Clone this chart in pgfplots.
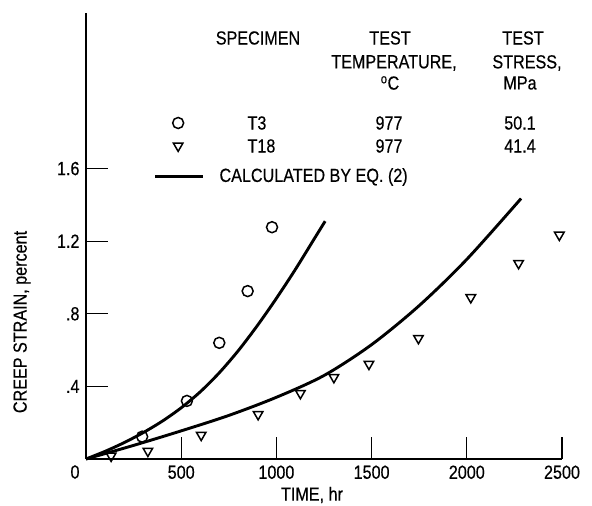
\documentclass[border=0pt]{standalone}
\usepackage{pgfplots}
\pgfplotsset{compat=1.18}
\usepackage{fontspec}
\setmainfont{Liberation Sans}[FakeStretch=0.85, FakeBold=0.4]
\begin{document}
\fontsize{19}{21}\selectfont
\begin{tikzpicture}
\useasboundingbox (-86pt,-47pt) rectangle (506pt,459pt);
\begin{axis}[
  scale only axis, width=476pt, height=446pt,
  xmin=0, xmax=2500, ymin=0, ymax=2.457,
  axis lines=left, axis line style={-, line width=1.5pt},
  tick align=inside, major tick length=22pt,
  tick style={line width=1.3pt, black},
  xtick={500,1000,1500,2000,2500}, xticklabels={500,1000,1500,2000,2500},
  ytick={0.4,0.8,1.2,1.6}, yticklabels={.4,.8,1.2,1.6},
  /pgf/number format/assume math mode=true,
  tick label style={font=\fontsize{19}{21}\selectfont},
  clip=false,
]
% calculated curves
\addplot[black, line width=2.9pt, smooth] coordinates {
  (0,0) (100,0.042) (200,0.09) (300,0.145) (400,0.208) (500,0.282) (600,0.37)
  (700,0.475) (800,0.597) (900,0.735) (1000,0.885) (1100,1.045) (1200,1.215) (1256,1.31)};
\addplot[black, line width=2.9pt, smooth] coordinates {
  (0,0) (250,0.075) (500,0.155) (750,0.24) (1000,0.34) (1250,0.46)
  (1500,0.63) (1750,0.845) (2000,1.10) (2285,1.435)};
% T3
\addplot[only marks, mark=o, mark size=5.5pt, mark options={line width=1.5pt}] coordinates {
  (295,0.123) (530,0.32) (700,0.64) (849,0.925) (977,1.277)};
% T18
\addplot[only marks, mark=triangle, mark size=5.5pt, mark options={rotate=180, line width=1.5pt}] coordinates {
  (132,0.017) (325,0.044) (605,0.132) (904,0.246) (1126,0.362) (1302,0.45)
  (1486,0.523) (1746,0.665) (2021,0.89) (2272,1.078) (2486,1.234)};
% key samples
\addplot[only marks, mark=o, mark size=5.5pt, mark options={line width=1.5pt}] coordinates {(484,1.851)};
\addplot[only marks, mark=triangle, mark size=5.5pt, mark options={rotate=180, line width=1.5pt}] coordinates {(484,1.725)};
\addplot[black, line width=2.9pt] coordinates {(363,1.554) (616,1.554)};
\end{axis}
\node at (-11pt,-13pt) {0};
\node at (226pt,-36pt) {TIME, hr};
\node[rotate=90] at (-64pt,137pt) {CREEP STRAIN, percent};
% key table
\node at (172pt,421pt) {SPECIMEN};
\node at (304pt,421pt) {TEST};
\node at (308pt,396pt) {TEMPERATURE,};
\node at (304pt,376pt) {\textsuperscript{o}C};
\node at (437pt,421pt) {TEST};
\node at (441pt,396pt) {STRESS,};
\node at (434pt,376pt) {MPa};
\node[anchor=west] at (155pt,336pt) {T3};
\node[anchor=west] at (155pt,313pt) {T18};
\node at (303pt,336pt) {977};
\node at (303pt,313pt) {977};
\node at (434pt,336pt) {50.1};
\node at (434pt,313pt) {41.4};
\node[anchor=west] at (127pt,282pt) {CALCULATED BY EQ. (2)};
\end{tikzpicture}
\end{document}
